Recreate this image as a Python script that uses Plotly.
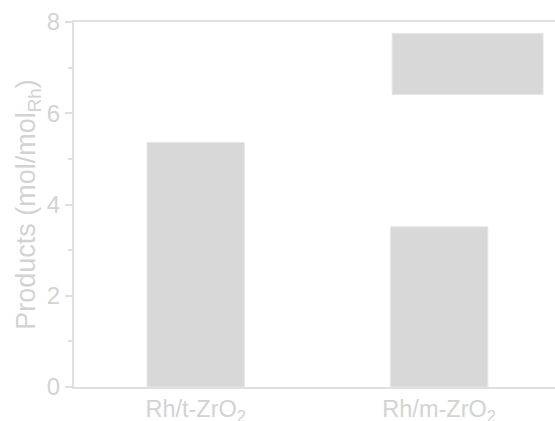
import plotly.graph_objects as go

# Catalyst categories and product yields (mol/mol_Rh)
categories = ["Rh/t-ZrO<sub>2</sub>", "Rh/m-ZrO<sub>2</sub>"]
positions = [0, 1]
products = [5.36, 3.51]

# Upper panel block: position, base and top value
block_pos = [1.117]
block_base = [6.41]
block_top = [7.75]

y_ticks = [0, 2, 4, 6, 8]

bar_fill = "#d8d8d8"
edge = "#e6e6e6"
text_col = "#d3d3d3"
axis_col = "#e0e0e0"
font_family = "Liberation Sans"

fig = go.Figure()
fig.add_trace(go.Bar(
    x=positions, y=products, width=0.4,
    marker=dict(color=bar_fill, line=dict(color=edge, width=1)),
    showlegend=False, hoverinfo="skip",
))
fig.add_trace(go.Bar(
    x=block_pos, y=[t - b for t, b in zip(block_top, block_base)], base=block_base,
    width=0.62,
    marker=dict(color=bar_fill, line=dict(color=edge, width=1)),
    showlegend=False, hoverinfo="skip",
))

fig.update_layout(
    width=555, height=421,
    margin=dict(l=74, r=0, t=22, b=34, autoexpand=False),
    paper_bgcolor="white", plot_bgcolor="white",
    font=dict(family=font_family, color=text_col),
    xaxis=dict(
        range=[-0.5, 1.476], tickvals=positions, ticktext=categories,
        showline=True, linecolor=axis_col, linewidth=2, mirror=True,
        ticks="", showgrid=False, zeroline=False, automargin=False,
        tickfont=dict(family=font_family, size=23.5, color=text_col),
    ),
    yaxis=dict(
        range=[0, 8], tickvals=y_ticks, automargin=False,
        showline=True, linecolor=axis_col, linewidth=2,
        ticks="outside", ticklen=7, tickwidth=1.5, tickcolor=axis_col,
        minor=dict(dtick=1, ticks="outside", ticklen=4, tickcolor=axis_col, tickwidth=1.5),
        showgrid=False, zeroline=False,
        tickfont=dict(family=font_family, size=24, color=text_col),
        title=dict(text="Products (mol/mol<sub>Rh</sub>)",
                   font=dict(family=font_family, size=27, color=text_col), standoff=3),
    ),
)

fig.write_html("out.html")
